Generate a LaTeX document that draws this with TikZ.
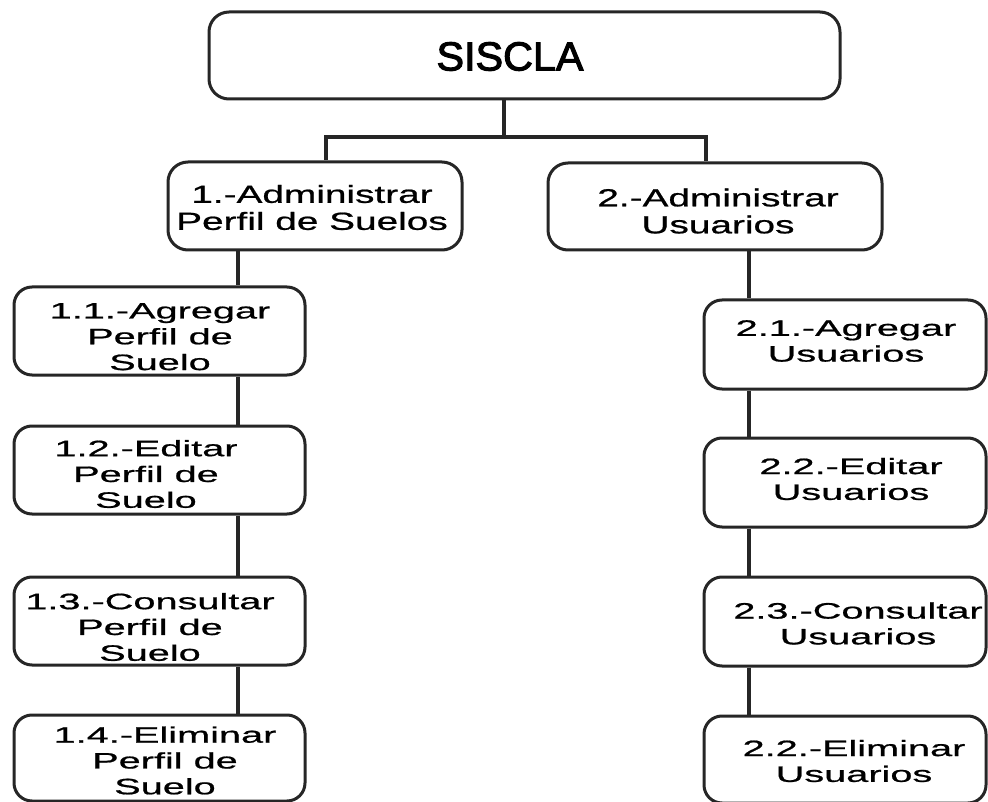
\documentclass[tikz,border=0pt]{standalone}
\usepackage{fontspec}
\setmainfont{Liberation Sans}
\newfontfamily\rootface[FakeStretch=1.02, FakeBold=2.6]{Liberation Sans}
\newfontfamily\headface[FakeStretch=1.57, FakeBold=0.8]{Liberation Sans}
\newfontfamily\leafface[FakeStretch=1.78, FakeBold=0.8]{Liberation Sans}

\tikzset{
  box/.style={draw=black!85, line width=3pt, rounded corners=18pt,
              fill=white, inner sep=0pt},
  link/.style={draw=black!85, line width=3.6pt},
  rootlbl/.style={inner sep=0pt, font=\rootface\fontsize{40.5}{48}\selectfont},
  headlbl/.style={inner sep=0pt, align=center, font=\headface\fontsize{24.7}{27}\selectfont},
  leaflbl/.style={inner sep=0pt, align=center, font=\leafface\fontsize{22.3}{25.8}\selectfont},
}

\begin{document}
\begin{tikzpicture}[x=1pt, y=-1pt]
\useasboundingbox[fill=white] (0,0) rectangle (988,802);

% branch points of the tree
\coordinate (hub)  at (504,137);
\coordinate (hubL) at (326,137);
\coordinate (hubR) at (706,137);
\coordinate (spineL) at (238,0);
\coordinate (spineR) at (749,0);

% boxes
\node[box, minimum width=631pt, minimum height=87pt, rounded corners=20pt] (root) at (524.5,55.5) {};
\node[box, minimum width=294pt, minimum height=88pt, rounded corners=20pt] (b1) at (315,206) {};
\node[box, minimum width=334pt, minimum height=87pt, rounded corners=20pt] (b2) at (715,206.5) {};

\node[box, minimum width=291pt, minimum height=88pt] (l1) at (159.5,331) {};
\node[box, minimum width=291pt, minimum height=88pt] (l2) at (159.5,470) {};
\node[box, minimum width=291pt, minimum height=88pt] (l3) at (159.5,621) {};
\node[box, minimum width=291pt, minimum height=86pt] (l4) at (159.5,758) {};

\node[box, minimum width=282pt, minimum height=89pt] (r1) at (845,344.5) {};
\node[box, minimum width=282pt, minimum height=89pt] (r2) at (845,482.5) {};
\node[box, minimum width=282pt, minimum height=89pt] (r3) at (845,621.5) {};
\node[box, minimum width=282pt, minimum height=87pt] (r4) at (845,759.5) {};

% connectors
\draw[link] (root.south -| hub) -- (hub);
\draw[link, line cap=rect] (hubL) -- (hubR);
\draw[link] (hubL) -- (b1.north -| hubL);
\draw[link] (hubR) -- (b2.north -| hubR);

\draw[link] (b1.south -| spineL) -- (l1.north -| spineL);
\draw[link] (l1.south -| spineL) -- (l2.north -| spineL);
\draw[link] (l2.south -| spineL) -- (l3.north -| spineL);
\draw[link] (l3.south -| spineL) -- (l4.north -| spineL);

\draw[link] (b2.south -| spineR) -- (r1.north -| spineR);
\draw[link] (r1.south -| spineR) -- (r2.north -| spineR);
\draw[link] (r2.south -| spineR) -- (r3.north -| spineR);
\draw[link] (r3.south -| spineR) -- (r4.north -| spineR);

% labels
\node[rootlbl] (rootT) at (510,56.5) {SISCLA};
\node[headlbl] (b1T) at (312,207.5) {1.-Administrar\\Perfil de Suelos};
\node[headlbl] (b2T) at (718,211) {2.-Administrar\\Usuarios};

\node[leaflbl] (l1T) at (160,336.7) {1.1.-Agregar\\Perfil de\\Suelo};
\node[leaflbl] (l2T) at (146,474) {1.2.-Editar\\Perfil de\\Suelo};
\node[leaflbl] (l3T) at (150,627) {1.3.-Consultar\\Perfil de\\Suelo};
\node[leaflbl] (l4T) at (165,760.5) {1.4.-Eliminar\\Perfil de\\Suelo};

\node[leaflbl] (r1T) at (846,341) {2.1.-Agregar\\Usuarios};
\node[leaflbl] (r2T) at (851,479) {2.2.-Editar\\Usuarios};
\node[leaflbl] (r3T) at (858,623.5) {2.3.-Consultar\\Usuarios};
\node[leaflbl] (r4T) at (854,761) {2.2.-Eliminar\\Usuarios};
\end{tikzpicture}
\end{document}
